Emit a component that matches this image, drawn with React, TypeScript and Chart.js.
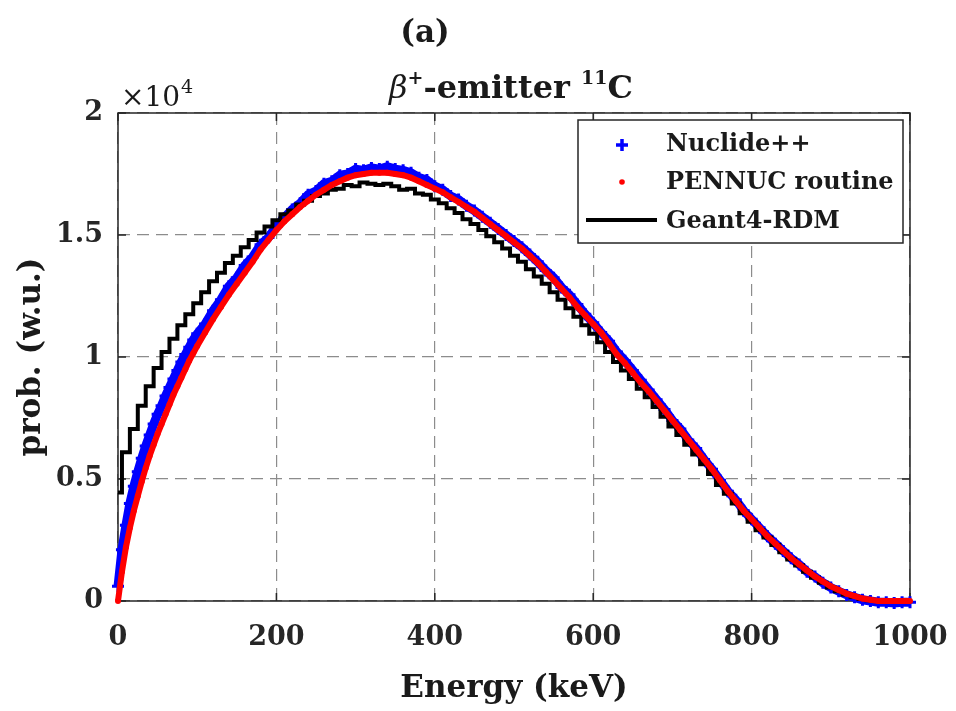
import React, { useEffect, useRef } from 'react';
import { Chart, registerables } from 'chart.js';

Chart.register(...registerables);

const FAMILY = '"DejaVu Serif", "Liberation Serif", serif';

// Energy grid (keV) for Nuclide++ and PENNUC
const energyFine = [
  0, 5, 10, 15, 20, 25, 30, 35, 40, 45, 50, 55, 60, 65, 70, 75, 80, 85, 90, 95, 100,
  110, 120, 130, 140, 150, 160, 170, 180, 190, 200,
  210, 220, 230, 240, 250, 260, 270, 280, 290, 300,
  310, 320, 330, 340, 350, 360, 370, 380, 390, 400,
  410, 420, 430, 440, 450, 460, 470, 480, 490, 500,
  510, 520, 530, 540, 550, 560, 570, 580, 590, 600,
  610, 620, 630, 640, 650, 660, 670, 680, 690, 700,
  710, 720, 730, 740, 750, 760, 770, 780, 790, 800,
  810, 820, 830, 840, 850, 860, 870, 880, 890, 900,
  910, 920, 930, 940, 950, 960, 970, 980, 990, 1000,
];

// Nuclide++ probability (units of 1e4)
const nuclideProb = [
  0.06, 0.21, 0.31, 0.40, 0.47, 0.53, 0.585, 0.635, 0.68, 0.725, 0.765, 0.80, 0.84, 0.875, 0.91, 0.945, 0.98, 1.01, 1.04, 1.07, 1.095,
  1.135, 1.19, 1.235, 1.29, 1.325, 1.375, 1.41, 1.46, 1.49, 1.535,
  1.57, 1.605, 1.63, 1.665, 1.68, 1.71, 1.72, 1.745, 1.75, 1.77,
  1.765, 1.775, 1.77, 1.78, 1.77, 1.765, 1.755, 1.735, 1.725, 1.70,
  1.685, 1.66, 1.645, 1.62, 1.60, 1.575, 1.55, 1.525, 1.50, 1.475,
  1.45, 1.42, 1.39, 1.355, 1.325, 1.285, 1.255, 1.215, 1.175, 1.14,
  1.10, 1.065, 1.02, 0.985, 0.945, 0.905, 0.865, 0.825, 0.785, 0.74,
  0.705, 0.66, 0.625, 0.58, 0.54, 0.495, 0.45, 0.415, 0.37, 0.335,
  0.30, 0.265, 0.235, 0.205, 0.175, 0.15, 0.12, 0.10, 0.075, 0.055,
  0.04, 0.025, 0.015, 0.005, 0.0, -0.005, -0.005, -0.008, -0.005, -0.005,
];

// PENNUC routine probability (units of 1e4)
const pennucProb = [
  0.0, 0.12, 0.22, 0.30, 0.37, 0.43, 0.49, 0.545, 0.595, 0.64, 0.685, 0.725, 0.765, 0.805, 0.845, 0.88, 0.915, 0.95, 0.985, 1.015, 1.045,
  1.10, 1.155, 1.205, 1.255, 1.30, 1.345, 1.39, 1.44, 1.48, 1.52,
  1.555, 1.585, 1.615, 1.64, 1.665, 1.685, 1.705, 1.72, 1.735, 1.745,
  1.75, 1.755, 1.755, 1.755, 1.75, 1.745, 1.735, 1.72, 1.705, 1.69,
  1.675, 1.655, 1.635, 1.615, 1.595, 1.57, 1.545, 1.52, 1.495, 1.47,
  1.445, 1.415, 1.385, 1.35, 1.315, 1.28, 1.245, 1.205, 1.17, 1.135,
  1.10, 1.055, 1.01, 0.975, 0.935, 0.895, 0.86, 0.82, 0.78, 0.74,
  0.70, 0.66, 0.62, 0.58, 0.54, 0.495, 0.45, 0.41, 0.37, 0.335,
  0.30, 0.265, 0.235, 0.205, 0.175, 0.15, 0.125, 0.10, 0.08, 0.06,
  0.045, 0.03, 0.02, 0.01, 0.005, 0, 0, 0, 0, 0,
];

// Geant4-RDM histogram bins (keV)
const energyG4 = [
  0, 10, 20, 30, 40, 50, 60, 70, 80, 90, 100,
  110, 120, 130, 140, 150, 160, 170, 180, 190, 200,
  210, 220, 230, 240, 250, 260, 270, 280, 290, 300,
  310, 320, 330, 340, 350, 360, 370, 380, 390, 400,
  410, 420, 430, 440, 450, 460, 470, 480, 490, 500,
  510, 520, 530, 540, 550, 560, 570, 580, 590, 600,
  610, 620, 630, 640, 650, 660, 670, 680, 690, 700,
  710, 720, 730, 740, 750, 760, 770, 780, 790, 800,
  810, 820, 830, 840, 850, 860, 870, 880, 890, 900,
  910, 920, 930, 940, 950, 960, 970, 980, 990, 1000,
];

// Geant4-RDM probability (units of 1e4)
const geant4Prob = [
  0.445, 0.61, 0.705, 0.80, 0.88, 0.955, 1.02, 1.075, 1.13, 1.175, 1.22,
  1.265, 1.31, 1.345, 1.385, 1.415, 1.45, 1.48, 1.51, 1.535, 1.56,
  1.585, 1.60, 1.625, 1.64, 1.66, 1.67, 1.685, 1.69, 1.705, 1.70,
  1.715, 1.71, 1.705, 1.71, 1.70, 1.685, 1.69, 1.67, 1.665, 1.645,
  1.63, 1.61, 1.59, 1.565, 1.545, 1.52, 1.495, 1.47, 1.445, 1.415,
  1.39, 1.36, 1.33, 1.30, 1.265, 1.235, 1.20, 1.165, 1.13, 1.095,
  1.06, 1.02, 0.98, 0.945, 0.91, 0.87, 0.835, 0.795, 0.755, 0.715,
  0.68, 0.64, 0.60, 0.56, 0.52, 0.475, 0.44, 0.40, 0.36, 0.325,
  0.29, 0.26, 0.23, 0.20, 0.17, 0.145, 0.12, 0.095, 0.075, 0.055,
  0.04, 0.027, 0.017, 0.008, 0.003, 0, 0, 0, 0, 0,
];

const xTicks = [0, 200, 400, 600, 800, 1000];
const yTicks = [0, 0.5, 1, 1.5, 2];
const yTickLabels = ['0', '0.5', '1', '1.5', '2'];

const seriesNames = ['Nuclide++', 'PENNUC routine', 'Geant4-RDM'];
const titleTag = '(a)';
const xTitle = 'Energy (keV)';
const yTitle = 'prob. (w.u.)';

type Part = { t: string; font: string; dy?: number };

function drawRich(ctx: CanvasRenderingContext2D, parts: Part[], cx: number, baseline: number) {
  let total = 0;
  for (const p of parts) {
    ctx.font = p.font;
    total += ctx.measureText(p.t).width;
  }
  let x = cx - total / 2;
  ctx.textAlign = 'left';
  ctx.textBaseline = 'alphabetic';
  for (const p of parts) {
    ctx.font = p.font;
    ctx.fillText(p.t, x, baseline + (p.dy || 0));
    x += ctx.measureText(p.t).width;
  }
}

const decorPlugin = {
  id: 'decor',
  beforeDatasetsDraw(chart: any) {
    const { ctx, chartArea } = chart;
    const { left, right, top, bottom } = chartArea;
    const xs = chart.scales.x;
    const ys = chart.scales.y;
    ctx.save();
    ctx.strokeStyle = '#262626';
    ctx.lineWidth = 1.5;
    ctx.setLineDash([]);
    ctx.strokeRect(left, top, right - left, bottom - top);
    const tl = 8;
    ctx.beginPath();
    xTicks.forEach((v) => {
      const px = xs.getPixelForValue(v);
      ctx.moveTo(px, bottom);
      ctx.lineTo(px, bottom - tl);
      ctx.moveTo(px, top);
      ctx.lineTo(px, top + tl);
    });
    yTicks.forEach((v) => {
      const py = ys.getPixelForValue(v);
      ctx.moveTo(left, py);
      ctx.lineTo(left + tl, py);
      ctx.moveTo(right, py);
      ctx.lineTo(right - tl, py);
    });
    ctx.stroke();
    ctx.restore();
  },
  afterDraw(chart: any) {
    const { ctx, chartArea } = chart;
    const { left, right, top, bottom } = chartArea;
    const cx = (left + right) / 2;
    ctx.save();
    ctx.fillStyle = '#1a1a1a';

    // (a)
    ctx.font = `bold 31px ${FAMILY}`;
    ctx.textAlign = 'center';
    ctx.textBaseline = 'alphabetic';
    ctx.fillText(titleTag, 425, 42);

    // beta+ emitter 11C
    drawRich(
      ctx,
      [
        { t: 'β', font: `italic 32px ${FAMILY}` },
        { t: '+', font: `bold 19px ${FAMILY}`, dy: -14 },
        { t: '-emitter ', font: `bold 32px ${FAMILY}` },
        { t: '11', font: `bold 19px ${FAMILY}`, dy: -14 },
        { t: 'C', font: `bold 32px ${FAMILY}` },
      ],
      cx - 3,
      98
    );

    // x10^4
    ctx.textAlign = 'left';
    ctx.font = `28px ${FAMILY}`;
    ctx.fillText('×10', left + 3, 106);
    const w = ctx.measureText('×10').width;
    ctx.font = `19px ${FAMILY}`;
    ctx.fillText('4', left + 3 + w + 1, 93);

    // axis titles
    ctx.font = `bold 31px ${FAMILY}`;
    ctx.textAlign = 'center';
    ctx.textBaseline = 'alphabetic';
    ctx.fillText(xTitle, cx, 697);

    ctx.save();
    ctx.translate(40, (top + bottom) / 2);
    ctx.rotate(-Math.PI / 2);
    ctx.textBaseline = 'alphabetic';
    ctx.fillText(yTitle, 0, 0);
    ctx.restore();

    // legend
    const lx = 578, ly = 120, lw = 325, lh = 123;
    ctx.fillStyle = '#ffffff';
    ctx.fillRect(lx, ly, lw, lh);
    ctx.strokeStyle = '#262626';
    ctx.lineWidth = 1.5;
    ctx.strokeRect(lx, ly, lw, lh);

    // blue plus
    ctx.strokeStyle = '#0000ff';
    ctx.lineWidth = 3.5;
    ctx.beginPath();
    ctx.moveTo(622 - 6, 145);
    ctx.lineTo(622 + 6, 145);
    ctx.moveTo(622, 145 - 6);
    ctx.lineTo(622, 145 + 6);
    ctx.stroke();
    // red dot
    ctx.fillStyle = '#ff0000';
    ctx.beginPath();
    ctx.arc(622, 182, 2.8, 0, Math.PI * 2);
    ctx.fill();
    // black line
    ctx.strokeStyle = '#000000';
    ctx.lineWidth = 4;
    ctx.beginPath();
    ctx.moveTo(586, 220);
    ctx.lineTo(657, 220);
    ctx.stroke();

    ctx.fillStyle = '#1a1a1a';
    ctx.font = `bold 24px ${FAMILY}`;
    ctx.textAlign = 'left';
    ctx.textBaseline = 'middle';
    ctx.fillText(seriesNames[0], 666, 145);
    ctx.fillText(seriesNames[1], 666, 183);
    ctx.fillText(seriesNames[2], 666, 222);
    ctx.restore();
  },
};

export default function App() {
  const canvasRef = useRef<HTMLCanvasElement | null>(null);

  useEffect(() => {
    document.body.style.margin = '0';
    const canvas = canvasRef.current;
    if (!canvas) return;

    const toPts = (xs: number[], ys: number[]) => xs.map((x, i) => ({ x, y: ys[i] }));

    const tickFont = { family: FAMILY, size: 27, weight: 'bold' as const };

    const chart = new Chart(canvas, {
      type: 'line',
      data: {
        datasets: [
          {
            label: seriesNames[1],
            data: toPts(energyFine, pennucProb),
            borderColor: '#ff0000',
            backgroundColor: '#ff0000',
            borderWidth: 6,
            pointRadius: 3,
            pointStyle: 'circle',
            pointBorderWidth: 0,
            tension: 0,
            order: 0,
            clip: 8,
          } as any,
          {
            label: seriesNames[2],
            data: toPts(energyG4, geant4Prob),
            borderColor: '#000000',
            backgroundColor: '#000000',
            borderWidth: 4,
            pointRadius: 0,
            stepped: 'middle',
            order: 1,
            clip: 8,
          } as any,
          {
            label: seriesNames[0],
            data: toPts(energyFine, nuclideProb),
            borderColor: '#0000ff',
            backgroundColor: '#0000ff',
            borderWidth: 9,
            pointStyle: 'cross',
            pointRadius: 6,
            pointBorderWidth: 3,
            tension: 0,
            order: 2,
            clip: 8,
          } as any,
        ],
      },
      options: {
        responsive: false,
        animation: false,
        events: [],
        layout: { padding: { top: 113, right: 46, bottom: 0, left: 0 } },
        plugins: {
          legend: { display: false },
          tooltip: { enabled: false },
          title: { display: false },
        },
        scales: {
          x: {
            type: 'linear',
            min: 0,
            max: 1000,
            afterBuildTicks: (s: any) => {
              s.ticks = xTicks.map((v) => ({ value: v }));
            },
            afterFit: (s: any) => {
              s.height = 110;
              s.paddingLeft = 0;
              s.paddingRight = 0;
            },
            ticks: {
              font: tickFont,
              color: '#262626',
              padding: 21,
              maxRotation: 0,
              autoSkip: false,
              callback: (v: any) => String(v),
            },
            grid: { color: '#8c8c8c', lineWidth: 1.2, drawTicks: false },
            border: { display: false, dash: [12, 7] },
          },
          y: {
            type: 'linear',
            min: 0,
            max: 2,
            afterBuildTicks: (s: any) => {
              s.ticks = yTicks.map((v) => ({ value: v }));
            },
            afterFit: (s: any) => {
              s.width = 118;
              s.paddingTop = 0;
              s.paddingBottom = 0;
            },
            ticks: {
              font: tickFont,
              color: '#262626',
              padding: 15,
              autoSkip: false,
              callback: (v: any) => {
                const i = yTicks.indexOf(Number(v));
                return i >= 0 ? yTickLabels[i] : '';
              },
            },
            grid: { color: '#8c8c8c', lineWidth: 1.2, drawTicks: false },
            border: { display: false, dash: [12, 7] },
          },
        },
      } as any,
      plugins: [decorPlugin],
    });

    return () => chart.destroy();
  }, []);

  return (
    <div style={{ position: 'absolute', left: 0, top: 0, width: 956, height: 711, background: '#fff' }}>
      <canvas ref={canvasRef} width={956} height={711} style={{ width: 956, height: 711, display: 'block' }} />
    </div>
  );
}
